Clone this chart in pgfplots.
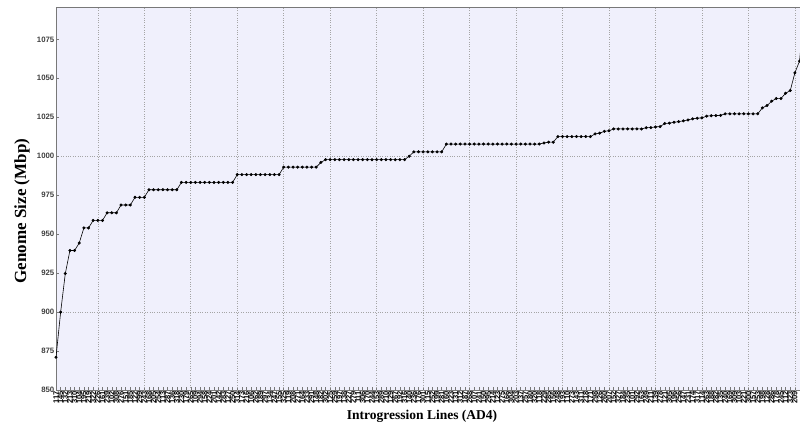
\documentclass[border=0pt]{standalone}
\usepackage{fontspec}
\setmainfont{Liberation Serif}
\newfontfamily\tickfont{Liberation Sans}
\usepackage{pgfplots}
\pgfplotsset{compat=1.18}
\definecolor{plotbg}{RGB}{240,240,252}
\definecolor{axisgray}{RGB}{120,120,120}
\definecolor{gridgray}{RGB}{165,165,165}

% genome size (Mbp) of each introgression line, sorted ascending
\pgfplotstableread{
idx size
1 871
2 900
3 924.7
4 939.5
5 939.5
6 944.3
7 954
8 954
9 958.8
10 958.8
11 958.8
12 963.7
13 963.7
14 963.7
15 968.7
16 968.7
17 968.7
18 973.6
19 973.6
20 973.6
21 978.5
22 978.5
23 978.5
24 978.5
25 978.5
26 978.5
27 978.5
28 983.2
29 983.2
30 983.2
31 983.2
32 983.2
33 983.2
34 983.2
35 983.2
36 983.2
37 983.2
38 983.2
39 983.2
40 988.2
41 988.2
42 988.2
43 988.2
44 988.2
45 988.2
46 988.2
47 988.2
48 988.2
49 988.2
50 993
51 993
52 993
53 993
54 993
55 993
56 993
57 993
58 996
59 997.8
60 997.8
61 997.8
62 997.8
63 997.8
64 997.8
65 997.8
66 997.8
67 997.8
68 997.8
69 997.8
70 997.8
71 997.8
72 997.8
73 997.8
74 997.8
75 997.8
76 997.8
77 1000
78 1002.8
79 1002.8
80 1002.8
81 1002.8
82 1002.8
83 1002.8
84 1002.8
85 1007.8
86 1007.8
87 1007.8
88 1007.8
89 1007.8
90 1007.8
91 1007.8
92 1007.8
93 1007.8
94 1007.8
95 1007.8
96 1007.8
97 1007.8
98 1007.8
99 1007.8
100 1007.8
101 1007.8
102 1007.8
103 1007.8
104 1007.8
105 1007.8
106 1008.5
107 1009
108 1009
109 1012.6
110 1012.6
111 1012.6
112 1012.6
113 1012.6
114 1012.6
115 1012.6
116 1012.6
117 1014.3
118 1014.8
119 1016
120 1016.3
121 1017.5
122 1017.5
123 1017.5
124 1017.5
125 1017.5
126 1017.5
127 1017.5
128 1018.3
129 1018.4
130 1018.8
131 1019
132 1021
133 1021.2
134 1021.8
135 1022.2
136 1022.7
137 1023.3
138 1024
139 1024.4
140 1024.6
141 1025.7
142 1026
143 1026.1
144 1026.2
145 1027.2
146 1027.2
147 1027.2
148 1027.2
149 1027.2
150 1027.2
151 1027.2
152 1027.2
153 1031
154 1032.5
155 1035.3
156 1037
157 1037
158 1040.4
159 1042.1
160 1053.5
161 1061
162 1094
}\sizes

\begin{document}
\begin{tikzpicture}
\begin{axis}[
  at={(0,0)}, anchor=south west,
  scale only axis, width=744pt, height=382.3pt,
  xmin=1, xmax=161.1, ymin=850, ymax=1095.3,
  axis background/.style={fill=plotbg},
  axis x line*=box, axis y line*=left,
  axis line style={axisgray, line width=0.8pt},
  tick pos=left,
  major tick length=3pt,
  tick style={axisgray, line width=0.5pt},
  ytick={850,875,...,1075},
  /pgf/number format/assume math mode=true,
  /pgf/number format/set thousands separator={},
  y tick label style={font=\tickfont\bfseries\fontsize{7.8}{8}\selectfont, text=black!75, inner sep=1.5pt},
  xtick={1,...,160},
  xticklabels={117,145,132,213,310,104,195,219,322,226,161,239,102,308,276,151,185,122,299,243,
168,205,254,113,287,136,318,230,179,265,109,294,158,224,201,142,283,127,250,314,
173,216,106,262,189,297,134,247,155,325,119,208,271,164,233,291,148,182,302,125,
259,197,138,227,279,111,306,170,244,153,289,210,129,267,192,316,140,236,176,301,
115,252,199,281,160,223,131,312,187,268,107,241,150,295,214,123,275,166,304,203,
137,257,180,320,118,229,285,156,248,193,110,273,143,311,218,171,298,126,260,207,
152,327,184,235,101,292,163,249,211,139,278,121,305,196,256,147,231,174,317,114,
263,188,282,135,240,169,309,103,221,300,157,253,198,128,286,178,245,112,323,209},
  x tick label style={rotate=90, anchor=east, font=\tickfont\bfseries\fontsize{7.5}{7.5}\selectfont, inner sep=1pt},
  extra x ticks={10,20,...,160}, extra x tick labels={},
  extra x tick style={grid=major, major tick length=0pt},
  extra y ticks={900,1000}, extra y tick labels={},
  extra y tick style={grid=major},
  grid style={gridgray, dotted, line width=0.6pt},
  xlabel={Introgression Lines (AD4)},
  xlabel style={font=\bfseries\fontsize{13.5}{15}\selectfont, at={(rel axis cs:0.492,-0.07)}, anchor=center},
  ylabel={Genome Size (Mbp)},
  ylabel style={font=\bfseries\fontsize{17}{19}\selectfont, at={(rel axis cs:-0.0457,0.468)}, anchor=center},
]
\addplot[black, line width=0.6pt, mark=*, mark size=1.2pt] table[x=idx, y=size] {\sizes};
\end{axis}
\pgfresetboundingbox
\path (-56pt,-37pt) rectangle (744pt,390pt);
\end{tikzpicture}
\end{document}
